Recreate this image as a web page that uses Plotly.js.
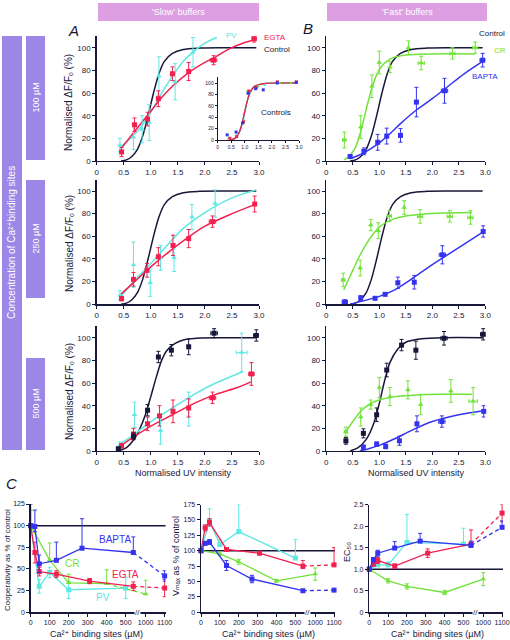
<!DOCTYPE html>
<html><head><meta charset="utf-8">
<script src="https://cdn.plot.ly/plotly-3.0.1.min.js"></script>
<style>html,body{margin:0;padding:0;background:#fff}#chart{width:510px;height:640px}</style>
</head><body><div id="chart"></div><script>
// ---------- tick labels ----------
const uvTicks = [0, 0.5, 1, 1.5, 2, 2.5, 3];
const uvTickText = ['0', '0.5', '1.0', '1.5', '2.0', '2.5', '3.0'];
const pctTicks = [0, 20, 40, 60, 80, 100];
const cTickVals = [0, 100, 200, 300, 400, 500, 1000, 1100];
const cTickText = ['0', '100', '200', '300', '400', '500', '1000', '1100'];
const coopTicks = [0, 25, 50, 75, 100, 125];
const vmaxTicks = [0, 25, 50, 75, 100, 125, 150, 175];
const ec50Ticks = [0, 0.5, 1, 1.5, 2, 2.5];
const ec50TickText = ['0', '0.5', '1.0', '1.5', '2.0', '2.5'];

// ---------- control fit (shared in 100 / 250 µM rows) ----------
const ctrlFitX = [0.45, 0.55, 0.65, 0.75, 0.85, 0.95, 1.05, 1.15, 1.25, 1.4, 1.6, 1.9, 2.3, 2.95];
const ctrlFitY = [0, 1, 4, 10, 22, 40, 60, 77, 88, 95, 98.5, 99.7, 100, 100];

// ---------- A, 100 µM ----------
const a1EgtaX = [0.46, 0.70, 0.94, 1.14, 1.40, 1.70, 2.16, 2.91];
const a1EgtaY = [8, 32, 37, 55, 77, 79, 89, 108];
const a1EgtaE = [4, 6, 6, 7, 6, 8, 4, 3];
const a1EgtaEx = [0, 0, 0, 0, 0, 0, 0.06, 0.04];
const a1EgtaFitX = [0.45, 0.7, 1.0, 1.2, 1.4, 1.7, 2.0, 2.2, 2.45, 2.7, 2.93];
const a1EgtaFitY = [11, 26, 44, 56, 66, 78, 87, 92, 99, 104, 107];
const a1PvX = [0.43, 0.68, 0.84, 0.97, 1.15, 1.45, 1.78];
const a1PvY = [14, 21, 28, 34, 75, 70, 96];
const a1PvE = [6, 11, 12, 16, 17, 16, 13];
const a1PvFitX = [0.43, 0.6, 0.8, 1.0, 1.2, 1.4, 1.6, 1.8, 2.0, 2.22];
const a1PvFitY = [12, 19, 29, 43, 60, 75, 88, 97, 104, 109];

// ---------- inset: controls ----------
const insBlueX = [0.35, 0.68, 0.92, 1.12, 1.4, 1.68, 2.2, 2.9];
const insBlueY = [9, 14, 30, 82, 90, 88, 100, 101];
const insRedX = [0.45, 0.7, 0.95, 1.15, 1.42, 2.2, 2.9];
const insRedY = [3, 6, 32, 86, 92, 102, 102];
const insGreenX = [0.4, 0.95, 1.1, 1.5, 2.3, 2.7];
const insGreenY = [2, 30, 86, 94, 100, 100];
const insCyanX = [0.42, 0.7, 0.97, 1.18, 1.45, 1.75, 2.25];
const insCyanY = [4, 10, 35, 84, 93, 96, 100];
const insFitX = [0.45, 0.6, 0.7, 0.8, 0.9, 1.0, 1.1, 1.2, 1.35, 1.5, 1.8, 2.3, 2.95];
const insFitY = [0, 2, 6, 14, 29, 50, 70, 84, 94, 97, 99.5, 100, 100];

// ---------- A, 250 µM ----------
const a2EgtaX = [0.46, 0.68, 0.93, 1.14, 1.41, 1.70, 2.14, 2.92];
const a2EgtaY = [5, 22, 30, 42, 52, 58, 73, 88.5];
const a2EgtaE = [2, 6, 6, 8, 9, 8, 5, 7];
const a2EgtaEx = [0, 0, 0, 0, 0, 0, 0.06, 0];
const a2EgtaFitX = [0.45, 0.7, 1.0, 1.3, 1.6, 2.0, 2.5, 2.92];
const a2EgtaFitY = [9, 20, 33, 45, 56, 69, 80, 88];
const a2PvX = [0.43, 0.68, 0.99, 1.18, 1.43, 1.76, 2.19];
const a2PvY = [8, 35, 19, 41, 41, 77, 89];
const a2PvE = [4, 20, 12, 11, 12, 11, 12];
const a2PvFitX = [0.43, 0.7, 1.0, 1.3, 1.6, 2.0, 2.5, 2.95];
const a2PvFitY = [6, 21, 36, 52, 67, 81, 94, 101];

// ---------- A, 500 µM ----------
const a3CtrlX = [0.40, 0.68, 0.94, 1.14, 1.38, 1.70, 2.17, 2.95];
const a3CtrlY = [2, 13, 36, 83, 89, 92, 104, 102];
const a3CtrlE = [1, 3, 5, 5, 5, 7, 4, 5];
const a3CtrlEx = [0, 0, 0, 0, 0, 0, 0.06, 0.05];
const a3CtrlFitX = [0.4, 0.55, 0.7, 0.8, 0.9, 1.0, 1.1, 1.2, 1.3, 1.45, 1.6, 1.9, 2.3, 2.95];
const a3CtrlFitY = [0, 3, 11, 20, 32, 48, 65, 80, 89, 95, 98, 99.7, 100, 100];
const a3EgtaX = [0.46, 0.68, 0.94, 1.16, 1.41, 1.70, 2.14, 2.86];
const a3EgtaY = [4.5, 15, 24, 31, 35, 38, 47, 68];
const a3EgtaE = [2, 5, 6, 9, 10, 8, 5, 10];
const a3EgtaEx = [0, 0, 0, 0, 0, 0, 0.06, 0.05];
const a3EgtaFitX = [0.45, 0.7, 1.0, 1.4, 1.8, 2.2, 2.6, 2.85];
const a3EgtaFitY = [5, 13, 22, 32, 42, 50, 56, 61];
const a3PvX = [0.43, 0.70, 1.18, 1.70, 2.68];
const a3PvY = [5, 32, 18, 37, 87];
const a3PvE = [3, 11, 12, 15, 17];
const a3PvEx = [0, 0, 0, 0, 0.1];
const a3PvFitX = [0.43, 0.7, 1.0, 1.4, 1.8, 2.2, 2.7];
const a3PvFitY = [6, 15, 26, 38, 50, 60, 70];

// ---------- B, 100 µM ----------
const b1CrX = [0.34, 0.65, 0.86, 1.0, 1.2, 1.55, 1.79, 2.38, 2.81];
const b1CrY = [18.5, 30, 66, 87, 83, 100, 86.5, 95, 100];
const b1CrE = [7, 10, 10, 10, 5, 6, 6, 5, 5];
const b1CrEx = [0.03, 0, 0, 0, 0, 0, 0.06, 0.05, 0.05];
const b1CrFitX = [0.34, 0.45, 0.55, 0.65, 0.75, 0.85, 0.95, 1.05, 1.2, 1.5, 2.0, 2.8];
const b1CrFitY = [1, 5, 12, 26, 45, 63, 76, 84, 90, 93.5, 94.5, 94.5];
const b1BaptaX = [0.45, 0.71, 0.97, 1.14, 1.40, 1.70, 2.23, 2.95];
const b1BaptaY = [4, 8.5, 16.5, 22, 22.6, 52, 62, 89];
const b1BaptaE = [1, 3, 7, 7, 6, 13, 11, 6];
const b1BaptaEx = [0, 0, 0, 0, 0, 0, 0.06, 0.05];
const b1BaptaFitX = [0.45, 0.7, 1.0, 1.2, 1.4, 1.7, 2.0, 2.3, 2.6, 2.95];
const b1BaptaFitY = [2, 7, 16, 24, 33, 45, 55, 66, 77, 88];

// ---------- B, 250 µM ----------
const b2CrX = [0.32, 0.64, 0.84, 0.98, 1.19, 1.47, 1.77, 2.33, 2.72];
const b2CrY = [21.5, 32, 70, 65, 78, 85.5, 77.6, 77.6, 76.7];
const b2CrE = [6, 7, 5, 7, 5, 6, 6, 5, 6];
const b2CrEx = [0.03, 0, 0, 0, 0.04, 0, 0.05, 0.05, 0.05];
const b2CrFitX = [0.33, 0.45, 0.6, 0.75, 0.9, 1.05, 1.25, 1.5, 1.8, 2.2, 2.75];
const b2CrFitY = [13, 25, 40, 53, 63, 70, 75, 78, 79.5, 80.5, 81];
const b2BaptaX = [0.35, 0.65, 0.92, 1.11, 1.35, 1.66, 2.19, 2.96];
const b2BaptaY = [2, 5.6, 5.3, 8.8, 19, 19.5, 43.7, 64.3];
const b2BaptaE = [2, 2, 1, 1, 5, 6, 8, 5];
const b2BaptaEx = [0.05, 0, 0, 0, 0, 0, 0.06, 0];
const b2BaptaFitX = [0.45, 0.7, 1.0, 1.3, 1.6, 2.0, 2.5, 2.96];
const b2BaptaFitY = [0, 3, 7, 13, 22, 35, 50, 64];

// ---------- B, 500 µM ----------
const b3CtrlX = [0.37, 0.70, 0.95, 1.14, 1.42, 1.69, 2.22, 2.96];
const b3CtrlY = [9, 15.6, 32, 71.5, 93.5, 89, 99.5, 103];
const b3CtrlE = [3, 4, 6, 6, 5, 8, 6, 5];
const b3CtrlEx = [0.03, 0, 0, 0, 0, 0, 0.06, 0.05];
const b3CtrlFitX = [0.45, 0.6, 0.75, 0.9, 1.0, 1.1, 1.2, 1.35, 1.5, 1.8, 2.2, 2.96];
const b3CtrlFitY = [0, 3, 10, 25, 42, 62, 78, 90, 96, 99, 100, 100];
const b3CrX = [0.37, 0.65, 0.84, 1.0, 1.2, 1.54, 1.78, 2.35, 2.77];
const b3CrY = [17, 30, 41, 56, 48, 54, 41, 53, 44];
const b3CrE = [4, 8, 4, 9, 8, 8, 9, 10, 12];
const b3CrEx = [0.03, 0, 0, 0, 0, 0, 0, 0, 0.08];
const b3CrFitX = [0.37, 0.5, 0.65, 0.8, 1.0, 1.3, 1.7, 2.2, 2.75];
const b3CrFitY = [17, 26, 35, 41, 45, 48, 49.5, 50, 50];
const b3BaptaX = [0.70, 0.95, 1.12, 1.38, 1.71, 2.18, 2.97];
const b3BaptaY = [3.3, 6, 4, 9, 24, 26, 35];
const b3BaptaE = [2, 2, 2, 4, 7, 5, 5];
const b3BaptaEx = [0, 0, 0, 0, 0, 0.06, 0];
const b3BaptaFitX = [0.63, 0.8, 1.0, 1.3, 1.6, 2.0, 2.5, 2.97];
const b3BaptaFitY = [0, 2, 5, 11, 18, 26, 32, 35.5];

// ---------- C: summary vs Ca2+ binding sites (µM) ----------
const cBaptaX = [0, 22, 45, 135, 270, 540, 1100];
const cEgtaX = [0, 22, 45, 135, 310, 540, 1100];
const cCrX = [0, 100, 200, 400, 1000];
const cPvX = [0, 45, 100, 200, 500];
const cRefX = [0, 1120];

const coopBapta = [100, 99, 56, 60, 74, 69, 42];
const coopBaptaUp = [25, 19, 10, 21, 34, 18, 6];
const coopBaptaDn = [0, 6, 10, 0, 0, 0, 6];
const coopEgta = [100, 69, 47, 44, 36, 30, 28];
const coopEgtaUp = [0, 12, 5, 4, 3, 5, 10];
const coopEgtaDn = [0, 12, 5, 4, 3, 5, 10];
const coopCr = [100, 60, 34, 33, 21];
const coopCrUp = [18, 20, 10, 16, 16];
const coopCrDn = [0, 0, 0, 0, 0];
const coopPv = [100, 30, 46, 26, 28];
const coopPvUp = [0, 8, 6, 10, 12];
const coopPvDn = [0, 8, 6, 10, 12];

const vmaxBapta = [100, 112, 114, 76, 54, 35, 36];
const vmaxBaptaUp = [0, 3, 4, 8, 6, 2, 2];
const vmaxEgta = [100, 137, 146, 102, 96, 75, 77];
const vmaxEgtaUp = [0, 5, 6, 3, 3, 9, 28];
const vmaxEgtaDn = [0, 5, 6, 3, 3, 4, 0];
const vmaxCr = [100, 95, 82, 51, 62];
const vmaxCrUp = [0, 3, 4, 2, 10];
const vmaxPv = [100, 148, 110, 131, 88];
const vmaxPvUp = [0, 20, 8, 44, 30];

const ecBapta = [1.0, 1.22, 1.37, 1.49, 1.65, 1.55, 1.97];
const ecBaptaUp = [0, 0.05, 0.07, 0.15, 0.18, 0.1, 0.15];
const ecBaptaDn = [0, 0.05, 0.07, 0, 0, 0, 0];
const ecEgta = [1.0, 1.12, 1.2, 1.07, 1.37, 1.58, 2.3];
const ecEgtaUp = [0, 0.05, 0.07, 0.05, 0.1, 0.33, 0.2];
const ecEgtaDn = [0, 0.05, 0.07, 0.05, 0.1, 0, 0.2];
const ecCr = [1.0, 0.73, 0.6, 0.46, 0.77];
const ecCrUp = [0, 0.05, 0.06, 0.05, 0.15];
const ecPv = [1.0, 1.1, 1.1, 1.62, 1.58];
const ecPvUp = [0.05, 0.05, 0.07, 0.65, 0.37];

// ---------- styling ----------
const INK = '#17173a';
const RED = '#f2204f';
const CYAN = '#5ee8e4';
const GREEN = '#72e23a';
const BLUE = '#3434ee';
const PURPLE = '#9c86e6';
const PINK = '#dd9fe1';
const FONT = 'Liberation Sans, Arial, DejaVu Sans, sans-serif';
const W = 510, H = 640;

// broken C axis: values above the break are shifted left
const brk = v => (v > 560 ? v - 395 : v);
const zeros = n => new Array(n).fill(0);

const traces = [];
function fit(x, y, color, xa, ya, w) {
  traces.push({x, y, xaxis: xa, yaxis: ya, type: 'scatter', mode: 'lines',
    line: {color, width: w || 1.5, shape: 'spline', smoothing: 0.8}, hoverinfo: 'skip', cliponaxis: false});
}
function pts(x, y, e, ex, color, symbol, xa, ya, size) {
  traces.push({x, y, xaxis: xa, yaxis: ya, type: 'scatter', mode: 'markers',
    marker: {color, symbol, size: size || 5}, cliponaxis: false,
    error_y: {type: 'data', array: e, visible: !!e, color, thickness: 1, width: 2},
    error_x: {type: 'data', array: ex || zeros(x.length), visible: !!ex, color, thickness: 1, width: 2}});
}
function cSeries(xs, ys, up, dn, color, symbol, xa, ya, dashLast) {
  const xp = xs.map(brk);
  const n = xp.length;
  const solidN = dashLast ? n - 1 : n;
  traces.push({x: xp.slice(0, solidN), y: ys.slice(0, solidN), xaxis: xa, yaxis: ya, type: 'scatter', mode: 'lines',
    line: {color, width: 1.3}, cliponaxis: false});
  if (dashLast) traces.push({x: xp.slice(n - 2), y: ys.slice(n - 2), xaxis: xa, yaxis: ya, type: 'scatter', mode: 'lines',
    line: {color, width: 1.3, dash: '4px,3px'}, cliponaxis: false});
  traces.push({x: xp, y: ys, xaxis: xa, yaxis: ya, type: 'scatter', mode: 'markers', cliponaxis: false,
    marker: {color, symbol, size: 5},
    error_y: {type: 'data', symmetric: false, array: up, arrayminus: dn || zeros(n), color, thickness: 1, width: 2}});
}
function ref(yv, xa, ya) {
  traces.push({x: cRefX.map(brk), y: [yv, yv], xaxis: xa, yaxis: ya, type: 'scatter', mode: 'lines',
    line: {color: INK, width: 1.5}, cliponaxis: false});
}

// A row 1
fit(ctrlFitX, ctrlFitY, INK, 'x', 'y');
fit(a1PvFitX, a1PvFitY, CYAN, 'x', 'y');
fit(a1EgtaFitX, a1EgtaFitY, RED, 'x', 'y');
pts(a1PvX, a1PvY, a1PvE, null, CYAN, 'triangle-up', 'x', 'y');
pts(a1EgtaX, a1EgtaY, a1EgtaE, a1EgtaEx, RED, 'square', 'x', 'y');
// inset
fit(insFitX, insFitY, CYAN, 'x7', 'y7', 1.2);
fit(insFitX, insFitY, BLUE, 'x7', 'y7', 1.2);
fit(insFitX, insFitY, GREEN, 'x7', 'y7', 1.2);
fit(insFitX, insFitY, RED, 'x7', 'y7', 1.2);
pts(insCyanX, insCyanY, null, null, CYAN, 'triangle-up', 'x7', 'y7', 3);
pts(insGreenX, insGreenY, null, null, GREEN, 'triangle-up', 'x7', 'y7', 3);
pts(insRedX, insRedY, null, null, RED, 'square', 'x7', 'y7', 3);
pts(insBlueX, insBlueY, null, null, BLUE, 'square', 'x7', 'y7', 3);
// B row 1
fit(ctrlFitX, ctrlFitY, INK, 'x2', 'y2');
fit(b1CrFitX, b1CrFitY, GREEN, 'x2', 'y2');
fit(b1BaptaFitX, b1BaptaFitY, BLUE, 'x2', 'y2');
pts(b1CrX, b1CrY, b1CrE, b1CrEx, GREEN, 'triangle-up', 'x2', 'y2');
pts(b1BaptaX, b1BaptaY, b1BaptaE, b1BaptaEx, BLUE, 'square', 'x2', 'y2');
// A row 2
fit(ctrlFitX, ctrlFitY, INK, 'x3', 'y3');
fit(a2PvFitX, a2PvFitY, CYAN, 'x3', 'y3');
fit(a2EgtaFitX, a2EgtaFitY, RED, 'x3', 'y3');
pts(a2PvX, a2PvY, a2PvE, null, CYAN, 'triangle-up', 'x3', 'y3');
pts(a2EgtaX, a2EgtaY, a2EgtaE, a2EgtaEx, RED, 'square', 'x3', 'y3');
// B row 2
fit(ctrlFitX, ctrlFitY, INK, 'x4', 'y4');
fit(b2CrFitX, b2CrFitY, GREEN, 'x4', 'y4');
fit(b2BaptaFitX, b2BaptaFitY, BLUE, 'x4', 'y4');
pts(b2CrX, b2CrY, b2CrE, b2CrEx, GREEN, 'triangle-up', 'x4', 'y4');
pts(b2BaptaX, b2BaptaY, b2BaptaE, b2BaptaEx, BLUE, 'square', 'x4', 'y4');
// A row 3
fit(a3CtrlFitX, a3CtrlFitY, INK, 'x5', 'y5');
fit(a3PvFitX, a3PvFitY, CYAN, 'x5', 'y5');
fit(a3EgtaFitX, a3EgtaFitY, RED, 'x5', 'y5');
pts(a3PvX, a3PvY, a3PvE, a3PvEx, CYAN, 'triangle-up', 'x5', 'y5');
pts(a3EgtaX, a3EgtaY, a3EgtaE, a3EgtaEx, RED, 'square', 'x5', 'y5');
pts(a3CtrlX, a3CtrlY, a3CtrlE, a3CtrlEx, INK, 'square', 'x5', 'y5');
// B row 3
fit(b3CtrlFitX, b3CtrlFitY, INK, 'x6', 'y6');
fit(b3CrFitX, b3CrFitY, GREEN, 'x6', 'y6');
fit(b3BaptaFitX, b3BaptaFitY, BLUE, 'x6', 'y6');
pts(b3CrX, b3CrY, b3CrE, b3CrEx, GREEN, 'triangle-up', 'x6', 'y6');
pts(b3BaptaX, b3BaptaY, b3BaptaE, b3BaptaEx, BLUE, 'square', 'x6', 'y6');
pts(b3CtrlX, b3CtrlY, b3CtrlE, b3CtrlEx, INK, 'square', 'x6', 'y6');
// C1 cooperativity
ref(100, 'x8', 'y8');
cSeries(cPvX, coopPv, coopPvUp, coopPvDn, CYAN, 'square', 'x8', 'y8', false);
cSeries(cCrX, coopCr, coopCrUp, coopCrDn, GREEN, 'triangle-up', 'x8', 'y8', true);
cSeries(cEgtaX, coopEgta, coopEgtaUp, coopEgtaDn, RED, 'square', 'x8', 'y8', true);
cSeries(cBaptaX, coopBapta, coopBaptaUp, coopBaptaDn, BLUE, 'square', 'x8', 'y8', true);
// C2 Vmax
ref(100, 'x9', 'y9');
cSeries(cPvX, vmaxPv, vmaxPvUp, null, CYAN, 'square', 'x9', 'y9', false);
cSeries(cCrX, vmaxCr, vmaxCrUp, vmaxCrUp, GREEN, 'triangle-up', 'x9', 'y9', false);
cSeries(cEgtaX, vmaxEgta, vmaxEgtaUp, vmaxEgtaDn, RED, 'square', 'x9', 'y9', true);
cSeries(cBaptaX, vmaxBapta, vmaxBaptaUp, vmaxBaptaUp, BLUE, 'square', 'x9', 'y9', true);
// C3 EC50
ref(1, 'x10', 'y10');
cSeries(cPvX, ecPv, ecPvUp, null, CYAN, 'square', 'x10', 'y10', false);
cSeries(cCrX, ecCr, ecCrUp, ecCrUp, GREEN, 'triangle-up', 'x10', 'y10', false);
cSeries(cEgtaX, ecEgta, ecEgtaUp, ecEgtaDn, RED, 'square', 'x10', 'y10', true);
cSeries(cBaptaX, ecBapta, ecBaptaUp, ecBaptaDn, BLUE, 'square', 'x10', 'y10', true);

// ---------- axes ----------
const common = {showline: true, linecolor: INK, linewidth: 1.4, ticks: 'outside', ticklen: 3, tickwidth: 1,
  tickcolor: INK, showgrid: false, zeroline: false, fixedrange: true, tickmode: 'array'};
function ax(x0, x1, anchor, range, tv, tt, fs) {
  return Object.assign({}, common, {domain: [x0 / W, x1 / W], anchor, range, tickvals: tv, ticktext: tt,
    tickfont: {family: FONT, size: fs, color: INK}});
}
function ay(top, bot, anchor, range, tv, tt, fs) {
  return Object.assign({}, common, {domain: [1 - bot / H, 1 - top / H], anchor, range, tickvals: tv, ticktext: tt,
    tickfont: {family: FONT, size: fs, color: INK}});
}
const pctText = pctTicks.map(String);
const cTickPos = cTickVals.map(brk);
const layout = {
  width: W, height: H, margin: {l: 0, r: 0, t: 0, b: 0}, showlegend: false,
  paper_bgcolor: '#fff', plot_bgcolor: 'rgba(0,0,0,0)', font: {family: FONT, color: INK},
  xaxis: ax(96.7, 259, 'y', [0, 3], uvTicks, uvTickText, 8),
  yaxis: ay(36.4, 161, 'x', [0, 110], pctTicks, pctText, 8),
  xaxis2: ax(326.3, 485.3, 'y2', [0, 3], uvTicks, uvTickText, 8),
  yaxis2: ay(36.4, 161, 'x2', [0, 110], pctTicks, pctText, 8),
  xaxis3: ax(96.7, 259, 'y3', [0, 3], uvTicks, uvTickText, 8),
  yaxis3: ay(179.7, 304.3, 'x3', [0, 110], pctTicks, pctText, 8),
  xaxis4: ax(326.3, 485.3, 'y4', [0, 3], uvTicks, uvTickText, 8),
  yaxis4: ay(179.7, 304.3, 'x4', [0, 110], pctTicks, pctText, 8),
  xaxis5: ax(96.7, 259, 'y5', [0, 3], uvTicks, uvTickText, 8),
  yaxis5: ay(326.4, 451, 'x5', [0, 110], pctTicks, pctText, 8),
  xaxis6: ax(326.3, 485.3, 'y6', [0, 3], uvTicks, uvTickText, 8),
  yaxis6: ay(326.4, 451, 'x6', [0, 110], pctTicks, pctText, 8),
  xaxis7: ax(217.7, 299, 'y7', [0, 3], uvTicks, uvTickText, 5),
  yaxis7: ay(77.3, 140, 'x7', [0, 110], pctTicks, pctText, 5),
  xaxis8: ax(30.7, 165.6, 'y8', [0, 710], cTickPos, cTickText, 7),
  yaxis8: ay(504, 612.3, 'x8', [0, 125], coopTicks, coopTicks.map(String), 7),
  xaxis9: ax(201, 335, 'y9', [0, 710], cTickPos, cTickText, 7),
  yaxis9: ay(504.5, 612.3, 'x9', [0, 175], vmaxTicks, vmaxTicks.map(String), 7),
  xaxis10: ax(369.3, 503, 'y10', [0, 710], cTickPos, cTickText, 7),
  yaxis10: ay(504.5, 612.3, 'x10', [0, 2.5], ec50Ticks, ec50TickText, 7),
};
layout.xaxis7.ticklen = 2; layout.yaxis7.ticklen = 2;
layout.xaxis7.linewidth = 1; layout.yaxis7.linewidth = 1;

// ---------- decorations ----------
const shapes = [];
function box(x0, y0, x1, y1, c) {
  shapes.push({type: 'rect', xref: 'paper', yref: 'paper', x0: x0 / W, x1: x1 / W, y0: 1 - y1 / H, y1: 1 - y0 / H,
    fillcolor: c, line: {width: 0}, layer: 'below'});
}
box(98, 3, 259, 21, PINK);
box(327, 3, 487, 21, PINK);
box(2, 36, 22, 450, PURPLE);
box(26, 36, 45, 160, PURPLE);
box(26, 180, 45, 298, PURPLE);
box(26, 358, 45, 450, PURPLE);
layout.shapes = shapes;

const ann = [];
function t(text, x, y, o) {
  ann.push(Object.assign({text, x: x / W, y: 1 - y / H, xref: 'paper', yref: 'paper', showarrow: false,
    xanchor: 'center', yanchor: 'middle', font: {family: FONT, size: 9, color: INK}}, o || {}));
}
const white = {color: '#ffffff', family: FONT, size: 9};
t("'Slow' buffers", 178.5, 12, {font: white});
t("'Fast' buffers", 407, 12, {font: white});
t('Concentration of Ca²⁺binding sites', 12, 243, {textangle: -90, font: {color: '#fff', family: FONT, size: 10}});
t('100 µM', 35.5, 98, {textangle: -90, font: white});
t('250 µM', 35.5, 239, {textangle: -90, font: white});
t('500 µM', 35.5, 404, {textangle: -90, font: white});
const letter = {family: FONT, size: 15, color: INK, style: 'italic'};
t('A', 73, 30, {font: letter});
t('B', 308, 29, {font: letter});
t('C', 11, 483, {font: letter});
const ytitle = 'Normalised ΔF/Fₒ (%)';
const ytFont = {family: FONT, size: 10, color: INK};
t(ytitle, 69, 103, {textangle: -90, font: ytFont});
t(ytitle, 69, 244, {textangle: -90, font: ytFont});
t(ytitle, 69, 392, {textangle: -90, font: ytFont});
t('Normalised UV intensity', 183.5, 473, {font: {family: FONT, size: 9, color: INK}});
t('Normalised UV intensity', 416, 473, {font: {family: FONT, size: 9, color: INK}});
const lab = (c, s) => ({family: FONT, size: s || 8, color: c});
t('EGTA', 262, 38, {xanchor: 'left', font: lab(RED)});
t('Control', 262, 49.5, {xanchor: 'left', font: lab(INK)});
t('PV', 224, 35, {xanchor: 'left', font: lab(CYAN)});
t('Controls', 276, 113, {font: lab(INK, 8)});
t('Control', 477, 34, {xanchor: 'left', font: lab(INK)});
t('CR', 492, 50, {xanchor: 'left', font: lab(GREEN)});
t('BAPTA', 470, 76, {xanchor: 'left', font: lab(BLUE)});
t('BAPTA', 115, 539, {font: lab(BLUE, 10)});
t('CR', 72, 563, {font: lab(GREEN, 10)});
t('EGTA', 125, 574, {font: lab(RED, 10)});
t('PV', 103, 597, {font: lab(CYAN, 10)});
const ctitle = {family: FONT, size: 8, color: INK};
const cxtitle = {family: FONT, size: 9, color: INK};
t('Cooperativity as % of control', 7, 560, {textangle: -90, font: ctitle});
t('Vₘₐₓ as % of control', 176, 556, {textangle: -90, font: cxtitle});
t('EC₅₀', 347, 552, {textangle: -90, font: cxtitle});
t('Ca²⁺ binding sites (µM)', 96, 634, {font: cxtitle});
t('Ca²⁺ binding sites (µM)', 268, 634, {font: cxtitle});
t('Ca²⁺ binding sites (µM)', 437, 634, {font: cxtitle});
[['x8', 'y8'], ['x9', 'y9'], ['x10', 'y10']].forEach(([xa, ya]) => {
  ann.push({text: '//', xref: xa, yref: ya, x: 562, y: 0, showarrow: false, xanchor: 'center', yanchor: 'middle',
    bgcolor: '#fff', borderpad: 0, font: {family: FONT, size: 8, color: INK}});
});
layout.annotations = ann;

Plotly.newPlot('chart', traces, layout, {staticPlot: true, displayModeBar: false});
</script></body></html>
